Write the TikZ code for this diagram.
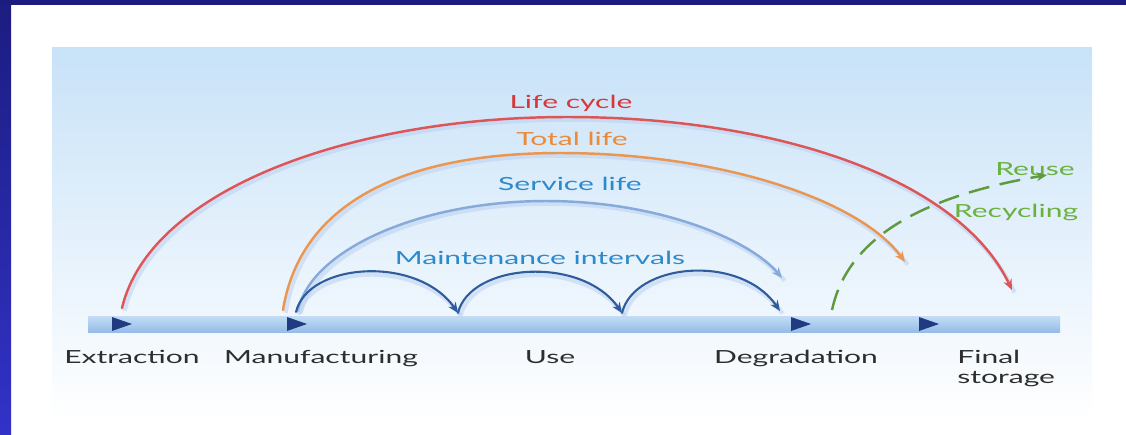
\documentclass[tikz,border=0pt]{standalone}
\usepackage{fontspec}
\setmainfont{Lato}
\newfontfamily\lblfont[FakeStretch=1.66]{Lato}
\usetikzlibrary{arrows.meta}
\definecolor{navy}{HTML}{1C1C80}
\definecolor{royal}{HTML}{3232C8}
\definecolor{panelA}{HTML}{C8E2F8}
\definecolor{panelB}{HTML}{E2EEFB}
\definecolor{barA}{HTML}{C2DDF5}
\definecolor{barB}{HTML}{97BCE8}
\definecolor{trinavy}{HTML}{1F3C80}
\definecolor{labgrey}{HTML}{2E2E2E}
\definecolor{lcred}{HTML}{D8373A}
\definecolor{tlorange}{HTML}{E98A3C}
\definecolor{slblue}{HTML}{2B8ACB}
\definecolor{servarc}{HTML}{86AADA}
\definecolor{maintblue}{HTML}{2E5C9C}
\definecolor{grtext}{HTML}{6AB23C}
\definecolor{grdash}{HTML}{5F9A3E}
\definecolor{glowblue}{HTML}{B9CFF0}
\tikzset{
    lbl/.style={font=\lblfont\fontsize{10.3}{11.3}\selectfont, text=labgrey, anchor=base, inner sep=0pt},
    tri/.style={fill=trinavy},
    arc/.style={->, line width=1.4pt, line cap=round,
        preaction={draw=glowblue, -, line width=2.4pt, opacity=.5,
            transform canvas={xshift=1.5pt,yshift=-1.5pt}}},
    lifearc/.style={arc, draw=lcred!85!white},
    totalarc/.style={arc, draw=tlorange!90!white},
    servicearc/.style={arc, draw=servarc},
    maintarc/.style={arc, draw=maintblue, line width=1.2pt},
    recycarc/.style={->, draw=grdash, line width=1.4pt, dash pattern=on 12pt off 6pt}
}
\begin{document}
\begin{tikzpicture}[x=0.02cm,y=-0.02cm,>={Stealth[length=6pt,width=5pt]}]
    \useasboundingbox (0,0) rectangle (1126,434);
    \fill[white] (0,0) rectangle (1126,434);
    \shade[top color=navy,bottom color=royal] (0,0) rectangle (11,434);
    \fill[navy] (0,0) rectangle (1126,5);
    \shade[top color=panelA,middle color=panelB,bottom color=white] (52,47) rectangle (1092,420);
    \shade[top color=barA,bottom color=barB] (88,316) rectangle (1060,332);
    \foreach \x in {122,297,801,929}
        {\fill[tri] (\x-10,317) -- (\x+10,324) -- (\x-10,331) -- cycle;
        }
    \node[lbl] (ext) at (132,363) {Extraction};
    \node[lbl] (man) at (321,363) {Manufacturing};
    \node[lbl] (use) at (550,363) {Use};
    \node[lbl] (deg) at (796,363) {Degradation};
    \node[lbl, anchor=base west, align=left] (fin) at (957,383) {Final\\storage};
    \node[lbl, text=lcred] (lc) at (571,108) {Life cycle};
    \node[lbl, text=tlorange] (tl) at (572,145) {Total life};
    \node[lbl, text=slblue] (sl) at (570,190) {Service life};
    \node[lbl, text=slblue] (mi) at (540,264) {Maintenance intervals};
    \node[lbl, text=grtext] (reuse) at (1035,175) {Reuse};
    \node[lbl, text=grtext] (recyc) at (1016,217) {Recycling};
    \coordinate (lcS) at (122,308);
    \coordinate (lcE) at (1012,290);
    \coordinate (tlS) at (283,310);
    \coordinate (tlE) at (905,262);
    \coordinate (slS) at (298,311);
    \coordinate (slE) at (782,278);
    \coordinate (m1) at (296,312);
    \coordinate (m2) at (458,313);
    \coordinate (m3) at (622,313);
    \coordinate (m4) at (780,311);
    \coordinate (grS) at (832,310);
    \coordinate (grE) at (1047,175);
    \draw[lifearc] (lcS) .. controls (150,190) and (350,117) .. (567,117) .. controls (780,117) and (960,180) .. (lcE);
    \draw[totalarc] (tlS) .. controls (300,205) and (400,153) .. (560,153) .. controls (720,153) and (860,200) .. (tlE);
    \draw[servicearc] (slS) .. controls (310,250) and (420,201) .. (546,201) .. controls (660,201) and (750,240) .. (slE);
    \foreach \a/\b in {m1/m2,m2/m3,m3/m4}
        \draw[maintarc] (\a) .. controls +(12,-50) and +(-40,-58) .. (\b);
    \draw[recycarc] (grS) .. controls (845,250) and (900,200) .. (grE);
\end{tikzpicture}
\end{document}
